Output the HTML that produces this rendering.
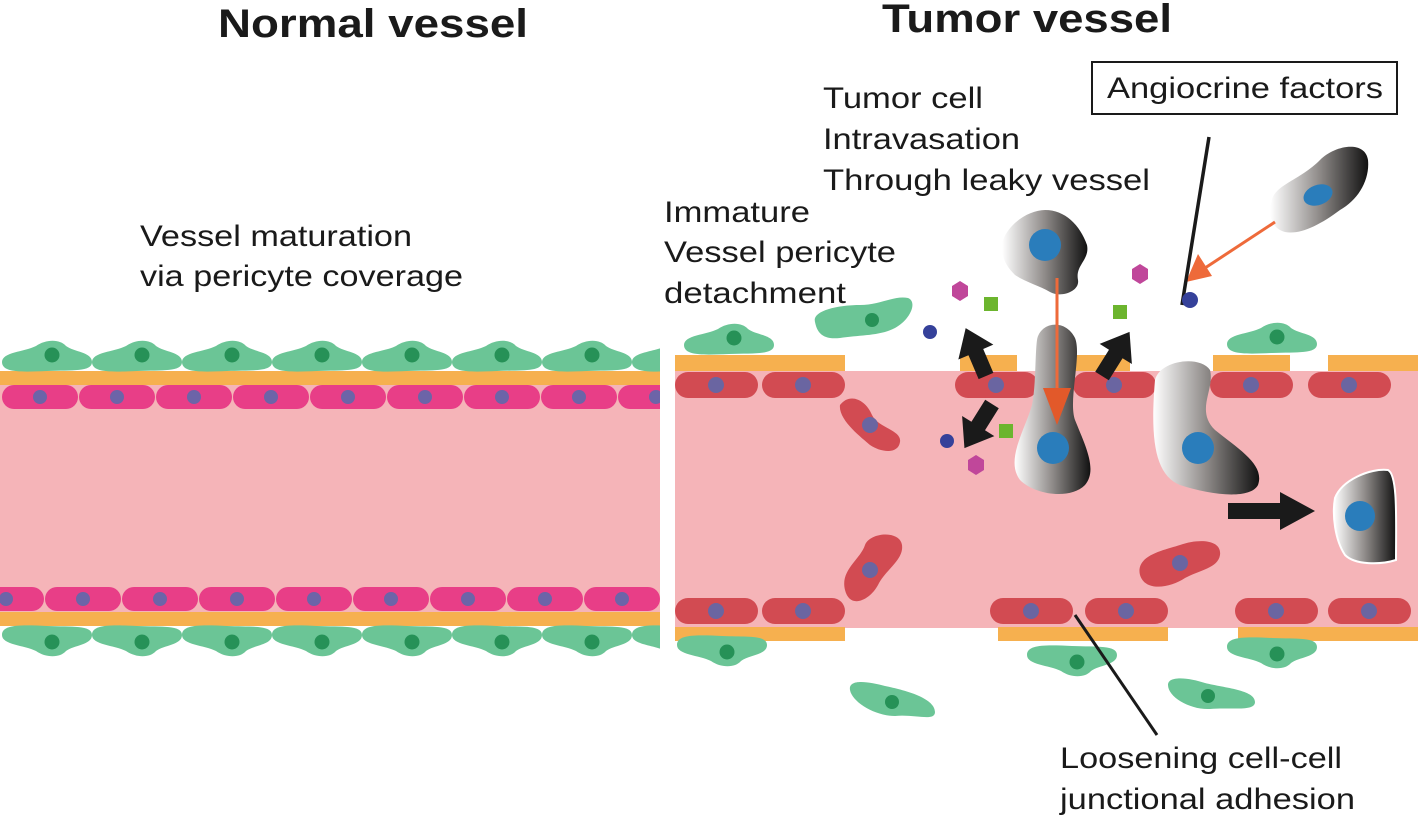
<!DOCTYPE html>
<html><head><meta charset="utf-8"><style>
html,body{margin:0;padding:0;background:#fff}
svg{display:block}
text{font-family:"Liberation Sans",Arial,sans-serif;fill:#1a1a1a}
</style></head><body>
<svg width="1418" height="818" viewBox="0 0 1418 818" xmlns="http://www.w3.org/2000/svg">
<defs>
<clipPath id="lc"><rect x="0" y="0" width="660" height="818"/></clipPath>
<linearGradient id="g" x1="0" x2="1" y1="0" y2="0"><stop offset="0" stop-color="#fff"/><stop offset="0.5" stop-color="#8f8b89"/><stop offset="1" stop-color="#111"/></linearGradient>
<g id="per"><path d="M0,22 C0,12 22,12 34,6 C44,-1 58,-1 64,6 C72,12 90,12 90,22 C90,32 70,30 45,31 C20,32 0,33 0,22Z" fill="#6bc596"/><circle cx="50" cy="15" r="7.5" fill="#269157"/></g>
<g id="pcell"><rect x="0" y="0" width="76" height="24" rx="12" fill="#e83e87"/><circle cx="38" cy="12" r="7" fill="#6c64a8"/></g>
<g id="rcell"><rect x="0" y="0" width="83" height="26" rx="13" fill="#d24b52"/><circle cx="41" cy="13" r="8" fill="#6a65a1"/></g>
<g id="arr"><path d="M0,-8 L26,-8 L26,-19 L52,0 L26,19 L26,8 L0,8Z" fill="#1a1a1a"/></g>
</defs>

<text x="218" y="37" font-size="40" font-weight="bold" textLength="310" lengthAdjust="spacingAndGlyphs">Normal vessel</text>
<text x="882" y="32" font-size="40" font-weight="bold" textLength="290" lengthAdjust="spacingAndGlyphs">Tumor vessel</text>
<rect x="1092" y="62" width="305" height="52" fill="#fff" stroke="#1a1a1a" stroke-width="2"/>
<g font-size="30">
<text x="1107" y="98" textLength="276" lengthAdjust="spacingAndGlyphs">Angiocrine factors</text>
<text x="140" y="246" textLength="272" lengthAdjust="spacingAndGlyphs">Vessel maturation</text>
<text x="140" y="286" textLength="323" lengthAdjust="spacingAndGlyphs">via pericyte coverage</text>
<text x="823" y="108" textLength="160" lengthAdjust="spacingAndGlyphs">Tumor cell</text>
<text x="823" y="149" textLength="197" lengthAdjust="spacingAndGlyphs">Intravasation</text>
<text x="823" y="190" textLength="327" lengthAdjust="spacingAndGlyphs">Through leaky vessel</text>
<text x="664" y="222" textLength="146" lengthAdjust="spacingAndGlyphs">Immature</text>
<text x="664" y="262" textLength="232" lengthAdjust="spacingAndGlyphs">Vessel pericyte</text>
<text x="664" y="303" textLength="182" lengthAdjust="spacingAndGlyphs">detachment</text>
<text x="1060" y="768" textLength="282" lengthAdjust="spacingAndGlyphs">Loosening cell-cell</text>
<text x="1060" y="809" textLength="295" lengthAdjust="spacingAndGlyphs">junctional adhesion</text>
</g>

<!-- left vessel -->
<g clip-path="url(#lc)">
<rect x="0" y="384" width="660" height="228" fill="#f5b4b8"/>
<rect x="0" y="371" width="660" height="14" fill="#f6b04f"/>
<rect x="0" y="612" width="660" height="14" fill="#f6b04f"/>
<use href="#pcell" x="2" y="385"/><use href="#pcell" x="79" y="385"/><use href="#pcell" x="156" y="385"/><use href="#pcell" x="233" y="385"/><use href="#pcell" x="310" y="385"/><use href="#pcell" x="387" y="385"/><use href="#pcell" x="464" y="385"/><use href="#pcell" x="541" y="385"/><use href="#pcell" x="618" y="385"/>
<use href="#pcell" x="-32" y="587"/><use href="#pcell" x="45" y="587"/><use href="#pcell" x="122" y="587"/><use href="#pcell" x="199" y="587"/><use href="#pcell" x="276" y="587"/><use href="#pcell" x="353" y="587"/><use href="#pcell" x="430" y="587"/><use href="#pcell" x="507" y="587"/><use href="#pcell" x="584" y="587"/>
<use href="#per" x="2" y="340"/><use href="#per" x="92" y="340"/><use href="#per" x="182" y="340"/><use href="#per" x="272" y="340"/><use href="#per" x="362" y="340"/><use href="#per" x="452" y="340"/><use href="#per" x="542" y="340"/><use href="#per" x="632" y="340"/>
<g transform="translate(0,1284) scale(1,-1)">
<use href="#per" x="2" y="627"/><use href="#per" x="92" y="627"/><use href="#per" x="182" y="627"/><use href="#per" x="272" y="627"/><use href="#per" x="362" y="627"/><use href="#per" x="452" y="627"/><use href="#per" x="542" y="627"/><use href="#per" x="632" y="627"/>
</g>
</g>

<!-- right vessel -->
<rect x="675" y="371" width="743" height="257" fill="#f5b4b8"/>
<g fill="#f6b04f">
<rect x="675" y="355" width="170" height="16"/><rect x="960" y="355" width="57" height="16"/><rect x="1075" y="355" width="55" height="16"/><rect x="1213" y="355" width="77" height="16"/><rect x="1328" y="355" width="90" height="16"/>
<rect x="675" y="627" width="170" height="14"/><rect x="998" y="627" width="170" height="14"/><rect x="1238" y="627" width="180" height="14"/>
</g>
<use href="#rcell" x="675" y="372"/><use href="#rcell" x="762" y="372"/><use href="#rcell" x="955" y="372"/><use href="#rcell" x="1073" y="372"/><use href="#rcell" x="1210" y="372"/><use href="#rcell" x="1308" y="372"/>
<use href="#rcell" x="675" y="598"/><use href="#rcell" x="762" y="598"/><use href="#rcell" x="990" y="598"/><use href="#rcell" x="1085" y="598"/><use href="#rcell" x="1235" y="598"/><use href="#rcell" x="1328" y="598"/>
<path d="M840,405 C850,392 866,400 872,415 C878,428 902,430 900,442 C898,455 880,452 870,445 C862,438 838,420 840,405Z" fill="#d24b52"/><circle cx="870" cy="425" r="8" fill="#6a65a1"/>
<path d="M845,590 C840,570 860,560 865,545 C870,532 900,530 902,545 C904,560 885,570 878,585 C870,600 850,610 845,590Z" fill="#d24b52"/><circle cx="870" cy="570" r="8" fill="#6a65a1"/>
<path d="M1140,575 C1135,555 1165,550 1180,545 C1200,538 1222,540 1220,555 C1218,568 1200,570 1185,578 C1170,588 1145,592 1140,575Z" fill="#d24b52"/><circle cx="1180" cy="563" r="8" fill="#6a65a1"/>
<use href="#per" x="684" y="323"/><use href="#per" x="1227" y="322"/>
<path d="M815,322 C812,310 840,305 860,305 C880,305 895,295 908,298 C918,302 910,320 895,328 C880,336 860,335 840,338 C822,340 817,332 815,322Z" fill="#6bc596"/><circle cx="872" cy="320" r="7" fill="#269157"/>
<g transform="translate(0,1300) scale(1,-1)"><use href="#per" x="677" y="633"/><use href="#per" x="1027" y="623"/><use href="#per" x="1227" y="631"/></g>
<path d="M850,690 C848,678 870,682 885,686 C905,690 935,698 935,712 C935,722 915,714 895,716 C875,716 852,702 850,690Z" fill="#6bc596"/><circle cx="892" cy="702" r="7" fill="#269157"/>
<path d="M1168,685 C1168,675 1190,678 1205,683 C1225,688 1255,690 1255,702 C1255,712 1230,707 1210,709 C1190,710 1168,697 1168,685Z" fill="#6bc596"/><circle cx="1208" cy="696" r="7" fill="#269157"/>

<path d="M1003,240 C1010,222 1030,210 1045,210 C1065,210 1080,225 1087,245 C1090,260 1075,265 1078,280 C1080,292 1060,298 1050,292 C1040,286 1025,282 1015,275 C1005,265 1000,255 1003,240Z" fill="url(#g)"/><circle cx="1045" cy="245" r="16" fill="#2a7dbb"/>
<path d="M1037,340 C1040,322 1065,318 1075,338 C1082,355 1068,400 1075,420 C1085,445 1098,470 1085,485 C1070,500 1035,495 1020,480 C1005,460 1025,430 1032,405 C1036,385 1035,355 1037,340Z" fill="url(#g)"/><circle cx="1053" cy="448" r="16" fill="#2a7dbb"/>
<path d="M1155,380 C1160,360 1200,355 1210,370 C1215,390 1195,410 1215,430 C1240,450 1265,465 1258,485 C1250,500 1210,495 1180,485 C1155,475 1150,440 1155,380Z" fill="url(#g)"/><circle cx="1198" cy="448" r="16" fill="#2a7dbb"/>
<path d="M1272,200 C1275,185 1300,180 1320,160 C1335,145 1365,140 1368,160 C1370,180 1358,200 1340,210 C1320,225 1300,235 1285,232 C1270,228 1268,212 1272,200Z" fill="url(#g)"/><ellipse cx="1318" cy="195" rx="15" ry="10" fill="#2a7dbb" transform="rotate(-20 1318 195)"/>
<path d="M1335,498 C1342,480 1370,468 1388,470 C1398,475 1396,520 1396,560 C1380,565 1355,565 1345,555 C1335,540 1332,515 1335,498Z" fill="url(#g)" stroke="#fff" stroke-width="2"/><circle cx="1360" cy="516" r="15" fill="#2a7dbb"/>

<line x1="1057" y1="278" x2="1057" y2="400" stroke="#ee6a3a" stroke-width="3"/>
<path d="M1043,388 L1071,388 L1057,425Z" fill="#e2592a"/>
<line x1="1275" y1="222" x2="1205" y2="268" stroke="#ee6a3a" stroke-width="3"/>
<path d="M1186,282 L1198,254 L1212,276Z" fill="#ee6a3a"/>
<line x1="1209" y1="137" x2="1182" y2="305" stroke="#1a1a1a" stroke-width="3.5"/>
<line x1="1075" y1="615" x2="1157" y2="735" stroke="#1a1a1a" stroke-width="3"/>

<g fill="#35419a"><circle cx="930" cy="332" r="7"/><circle cx="947" cy="441" r="7"/><circle cx="1190" cy="300" r="8"/></g>
<g fill="#6cb52e"><rect x="984" y="297" width="14" height="14"/><rect x="1113" y="305" width="14" height="14"/><rect x="999" y="424" width="14" height="14"/></g>
<g fill="#c0479a"><path d="M960,281 l8,5 v10 l-8,5 l-8,-5 v-10Z"/><path d="M1140,264 l8,5 v10 l-8,5 l-8,-5 v-10Z"/><path d="M976,455 l8,5 v10 l-8,5 l-8,-5 v-10Z"/></g>

<use href="#arr" transform="translate(986,376) rotate(-113)"/>
<use href="#arr" transform="translate(992,404) rotate(122)"/>
<use href="#arr" transform="translate(1102,376) rotate(-58)"/>
<path d="M1228,503 L1280,503 L1280,492 L1315,511 L1280,530 L1280,519 L1228,519Z" fill="#1a1a1a"/>
</svg>
</body></html>
